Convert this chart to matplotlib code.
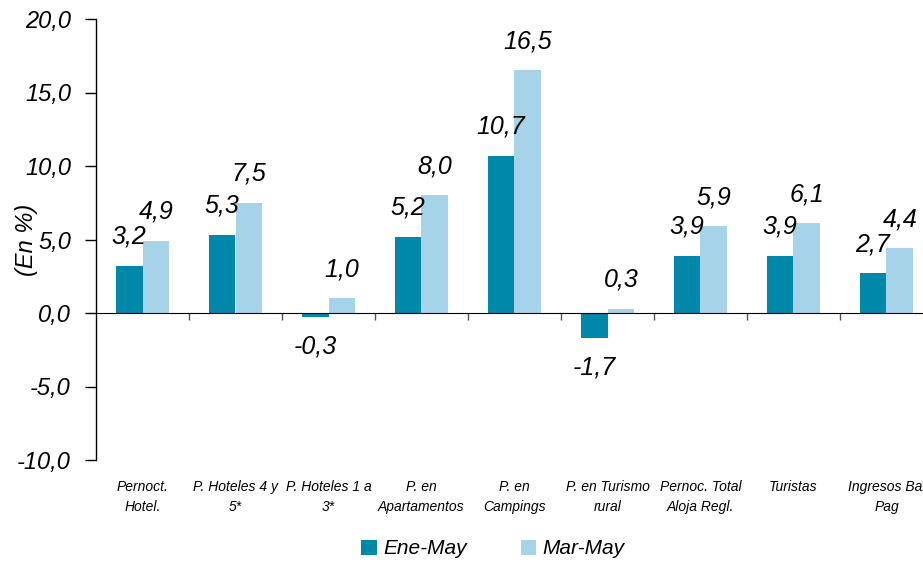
import numpy as np
import matplotlib.pyplot as plt
import matplotlib.transforms as mtransforms

categorias = ["Pernoct.\nHotel.", "P. Hoteles 4 y\n5*", "P. Hoteles 1 a\n3*",
              "P. en\nApartamentos", "P. en\nCampings", "P. en Turismo\nrural",
              "Pernoc. Total\nAloja Regl.", "Turistas", "Ingresos Bal\nPag"]
ene_may = [3.2, 5.3, -0.3, 5.2, 10.7, -1.7, 3.9, 3.9, 2.7]
mar_may = [4.9, 7.5, 1.0, 8.0, 16.5, 0.3, 5.9, 6.1, 4.4]
series = ["Ene-May", "Mar-May"]

c_dark = "#0088ab"
c_light = "#a6d3e8"
fam = ["Liberation Sans Narrow", "Liberation Sans", "DejaVu Sans"]
fam_reg = ["Liberation Sans", "DejaVu Sans"]

fig = plt.figure(figsize=(9.23, 5.62), dpi=100)
ax = fig.add_axes([96/923, 102/562, 837/923, 441/562])

x = np.arange(len(categorias))
w = 0.29
b1 = ax.bar(x - w/2, ene_may, w, color=c_dark, label=series[0])
b2 = ax.bar(x + w/2, mar_may, w, color=c_light, label=series[1])

def fmt(v):
    return f"{v:.1f}".replace(".", ",")

for bars, vals in [(b1, ene_may), (b2, mar_may)]:
    for r, v in zip(bars, vals):
        off = 21 if v >= 0 else -21
        ax.annotate(fmt(v), (r.get_x() + r.get_width()/2, v), xytext=(0, off),
                    textcoords="offset points", ha="center", va="center",
                    fontsize=18, style="italic", family=fam)

ax.set_xlim(-0.5, len(categorias) - 0.5)
ax.set_ylim(-10, 20)
ax.set_yticks(np.arange(-10, 21, 5))
ax.set_yticklabels([fmt(v) for v in np.arange(-10, 21, 5)], fontsize=17,
                   style="italic", family=fam)
ax.tick_params(axis="y", direction="out", length=8, width=1, pad=10)
ax.set_ylabel("(En %)", fontsize=17, style="italic", family=fam_reg, labelpad=0)
ax.yaxis.set_label_coords(-0.069, 0.5)

ax.spines["top"].set_visible(False)
ax.spines["right"].set_visible(False)
ax.spines["bottom"].set_position(("data", 0))
ax.spines["left"].set_linewidth(1)
ax.set_xticks(np.arange(len(categorias)) + 0.5)
ax.set_xticklabels([])
ax.tick_params(axis="x", direction="out", length=5, width=1, color="#555555")

trans = mtransforms.blended_transform_factory(ax.transData, ax.transAxes)
for xi, lab in zip(x, categorias):
    ax.text(xi, -0.045, lab, transform=trans, ha="center", va="top",
            fontsize=10, style="italic", family=fam_reg, linespacing=1.6)

leg = fig.legend(loc="center", bbox_to_anchor=(493/923, 1 - 549/562), ncol=2,
                 frameon=False, handlelength=0.75, handleheight=0.75,
                 columnspacing=2.6, handletextpad=0.3,
                 prop={"size": 15, "style": "italic", "family": fam_reg})

fig.savefig("out.png", dpi=100)
